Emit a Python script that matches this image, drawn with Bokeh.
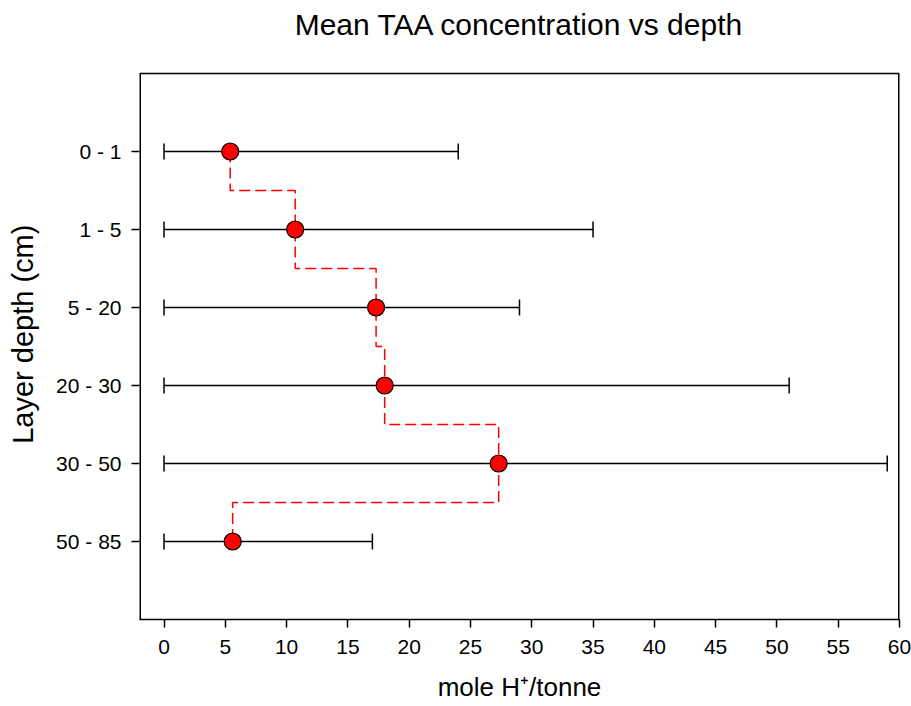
from bokeh.plotting import figure
from bokeh.models import ColumnDataSource, Whisker, TeeHead, Range1d, FixedTicker
from bokeh.core.properties import value
from bokeh.embed import file_html
from bokeh.resources import INLINE

# ---- data ----
title_text = "Mean TAA concentration vs depth"
layers = ["0 - 1", "1 - 5", "5 - 20", "20 - 30", "30 - 50", "50 - 85"]
mean_taa = [5.4, 10.7, 17.3, 18.0, 27.3, 5.6]
err_lower = [0, 0, 0, 0, 0, 0]
err_upper = [24, 35, 29, 51, 59, 17]
x_ticks = [0, 5, 10, 15, 20, 25, 30, 35, 40, 45, 50, 55, 60]

pos = list(range(1, len(layers) + 1))

FONT = "Liberation Sans"
W, H = 911, 706
BL, BR, BB = 139, 12, 87
BOX_TOP_PX = 73               # pixel row of the top of the axes box
X0, X1 = -2, 60               # x extent of the axes box
Y_BOT, Y_TOP = len(layers) + 1, 0   # y extent of the axes box (inverted)

frame_h = H - BB
px_per_unit = (frame_h - BOX_TOP_PX) / (Y_BOT - Y_TOP)
y_end = Y_TOP - BOX_TOP_PX / px_per_unit   # frame extends up to canvas top for the title

p = figure(width=W, height=H, output_backend="svg", toolbar_location=None,
           title_location=None,
           x_range=Range1d(X0, X1), y_range=Range1d(Y_BOT, y_end),
           min_border_left=BL, min_border_right=BR, min_border_top=0,
           min_border_bottom=BB)

p.xgrid.visible = False
p.ygrid.visible = False
p.outline_line_color = None
p.background_fill_color = None
p.border_fill_color = "white"

p.xaxis.ticker = FixedTicker(ticks=x_ticks)
p.yaxis.ticker = FixedTicker(ticks=pos)
p.yaxis.major_label_overrides = {i: l for i, l in zip(pos, layers)}

for ax in (p.xaxis[0], p.yaxis[0]):
    ax.axis_line_color = "black"
    ax.axis_line_width = 1.5
    ax.major_tick_in = 0
    ax.major_tick_out = 8
    ax.major_tick_line_width = 1.5
    ax.minor_tick_line_color = None
    ax.major_label_text_font = FONT
    ax.major_label_text_font_size = "21px"
    ax.major_label_text_color = "black"
    ax.axis_label_text_font = FONT
    ax.axis_label_text_font_style = "normal"
    ax.axis_label_text_color = "black"
p.yaxis.axis_line_color = None

p.xaxis.axis_label = "mole H\u207a/tonne"
p.xaxis.axis_label_text_font_size = "26px"
p.xaxis.major_label_standoff = 12
p.xaxis.axis_label_standoff = 15
# trailing no-break spaces shift the rotated label down to centre it on the box
p.yaxis.axis_label = "Layer depth (cm)" + "\u00a0" * 6
p.yaxis.axis_label_text_font_size = "29px"
p.yaxis.major_label_standoff = 10
p.yaxis.axis_label_standoff = 14

# axes box (left/right edges sit on the frame edge, so half is clipped -> double width)
p.line([X0, X0], [Y_BOT, Y_TOP], line_color="black", line_width=3)
p.line([X1, X1], [Y_BOT, Y_TOP], line_color="black", line_width=3)
p.line([X0, X1], [Y_TOP, Y_TOP], line_color="black", line_width=1.5)

# title (baseline near the canvas top)
p.text(x=[(X0 + X1) / 2], y=[y_end + 24 / px_per_unit], text=[title_text],
       text_align="center", text_baseline="alphabetic",
       text_font=value(FONT), text_font_size="30px", text_color="black")

# error bars
src = ColumnDataSource(dict(y=pos, mean=mean_taa, lower=err_lower, upper=err_upper))
wh = Whisker(source=src, base="y", lower="lower", upper="upper", dimension="width",
             line_color="black", line_width=1.5,
             lower_head=TeeHead(size=16, line_color="black", line_width=1.5),
             upper_head=TeeHead(size=16, line_color="black", line_width=1.5))
p.add_layout(wh)

# step connecting line (vertical steps at half-way between layers)
sx, sy = [], []
for i, (v, y) in enumerate(zip(mean_taa, pos)):
    if i > 0:
        sx.append(v); sy.append(y - 0.5)
    sx.append(v); sy.append(y)
    if i < len(pos) - 1:
        sx.append(v); sy.append(y + 0.5)
p.line(sx, sy, line_color="red", line_width=1.5, line_dash="11 5")

p.scatter("mean", "y", source=src, size=17, fill_color="red",
          line_color="black", line_width=1.2)

open("out.html", "w").write(file_html(p, INLINE))
